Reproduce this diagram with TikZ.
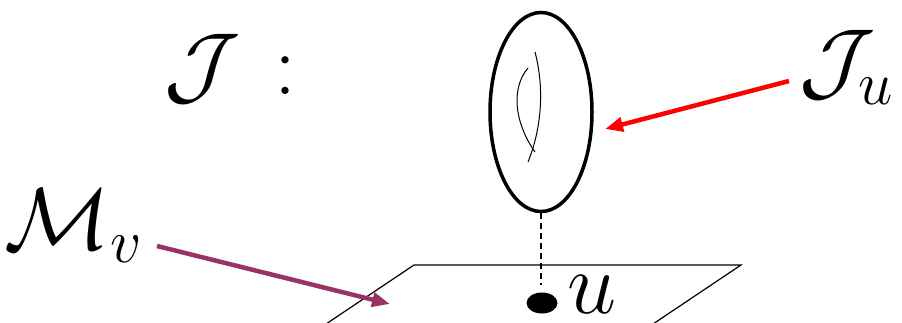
\RequirePackage{fix-cm}
\documentclass[tikz,border=0pt]{standalone}
\usetikzlibrary{arrows.meta,shapes.geometric}
\definecolor{plum}{RGB}{153,51,102}
\begin{document}
\begin{tikzpicture}[x=1pt,y=-1pt,
  lbl/.style={inner sep=0pt,outer sep=0pt,anchor=base west,font=\fontsize{88}{88}\selectfont},
  thin line/.style={line width=1.2pt},
  pointer/.style={line width=4.5pt,-{Triangle[length=18pt,width=14pt]}}]
\useasboundingbox (0,0) rectangle (902,323);
% plane
\draw[thin line] (323,326) -- (414,265) -- (741,265) -- (650,326);
% fibre ellipse
\node[draw,line width=3.5pt,ellipse,minimum width=102pt,minimum height=199pt,inner sep=0pt] (fib) at (541,112) {};
\draw[line width=1pt] (535,52) .. controls (545,90) and (541,130) .. (528,162);
\draw[line width=1pt] (528,68) .. controls (511,88) and (514,122) .. (535,152);
% dashed link
\coordinate (pt) at (541,285);
\draw[line width=1.3pt,dash pattern=on 6pt off 4pt] (fib.south) -- (pt);
% point u
\node[fill=black,ellipse,minimum width=31pt,minimum height=21pt,inner sep=0pt] (dot) at (542,303) {};
\node[lbl] (u) at (567,313) {$u$};
% labels
\node[lbl] (J) at (164,95) {$\mathcal{J}\mkern2mu:$};
\node[lbl] (Ju) at (799,91) {$\mathcal{J}_u$};
\node[lbl] (Mv) at (5,249) {$\mathcal{M}_v$};
% arrows
\coordinate (rs) at (789,81);
\coordinate (re) at (605,129);
\draw[pointer,red] (rs) -- (re);
\coordinate (ms) at (157,246);
\coordinate (me) at (390,304);
\draw[pointer,plum] (ms) -- (me);
\end{tikzpicture}
\end{document}
